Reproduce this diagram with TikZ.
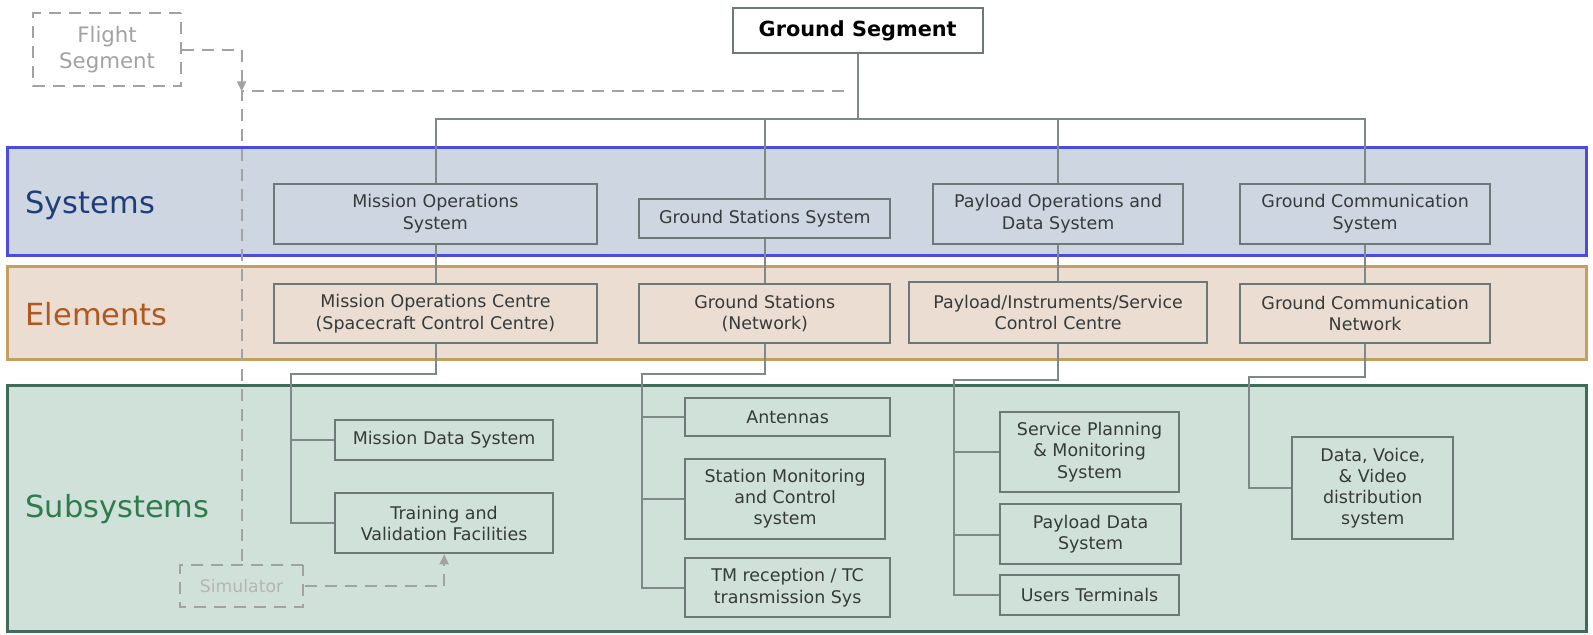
\documentclass[tikz,border=0pt]{standalone}
\usepackage{fontspec}
\setmainfont{DejaVu Sans}
\usetikzlibrary{arrows.meta}
\definecolor{sysfill}{HTML}{CDD6E1}
\definecolor{sysline}{HTML}{4B4BE0}
\definecolor{sysText}{HTML}{1F3D7A}
\definecolor{elfill}{HTML}{EBDDD2}
\definecolor{elline}{HTML}{C4A060}
\definecolor{elText}{HTML}{B0581E}
\definecolor{subfill}{HTML}{D0E1D9}
\definecolor{subline}{HTML}{3E6C58}
\definecolor{subText}{HTML}{2E7C4E}
\definecolor{boxline}{HTML}{6E7878}
\definecolor{boxtext}{HTML}{363A3A}
\definecolor{connc}{HTML}{7F8888}
\definecolor{dashc}{HTML}{A2A2A2}
\tikzset{
  box/.style={draw=boxline, line width=2pt, inner sep=0pt, align=center,
    text=boxtext, font=\fontsize{17.2}{21}\selectfont, transform shape},
  conn/.style={draw=connc, line width=2pt},
  dashl/.style={draw=dashc, line width=2pt, dash pattern=on 12pt off 8pt},
  dashbox/.style={draw=dashc, line width=2pt, dash pattern=on 12pt off 8pt,
    inner sep=0pt, align=center, text=dashc, transform shape},
  bandlabel/.style={anchor=west, inner sep=0pt, font=\fontsize{30}{34}\selectfont, transform shape},
  tip/.style={-{Triangle[length=10pt,width=9pt]}}
}
\begin{document}
\begin{tikzpicture}[x=1pt,y=-1pt,scale=1.015]
\useasboundingbox (0,0) rectangle (1569.5,625.6);
% bands
\draw[fill=sysfill, draw=sysline, line width=3pt] (7,145) rectangle (1563,252);
\draw[fill=elfill, draw=elline, line width=3pt] (7,263) rectangle (1563,354);
\draw[fill=subfill, draw=subline, line width=3pt] (7,380) rectangle (1563,622);
\node[bandlabel, text=sysText] (lsys) at (25,202) {Systems};
\node[bandlabel, text=elText] (lel) at (25,310) {Elements};
\node[bandlabel, text=subText] (lsub) at (25,502) {Subsystems};

% top
\node[box, fill=white, text=black, minimum width=246, minimum height=44,
  font=\bfseries\fontsize{20.5}{24}\selectfont] (gs) at (845,30) {Ground Segment};
\node[dashbox, minimum width=145, minimum height=72,
  font=\fontsize{21}{26}\selectfont] (fs) at (105.5,49) {Flight\\Segment};
\node[dashbox, minimum width=122, minimum height=41,
  font=\fontsize{17}{20}\selectfont, text=dashc!80] (sim) at (238,577.5) {Simulator};

% systems
\node[box, minimum width=318, minimum height=59] (mos) at (429,210.5) {Mission Operations\\System};
\node[box, minimum width=247, minimum height=38] (gss) at (753.5,215) {Ground Stations System};
\node[box, minimum width=247, minimum height=59] (pods) at (1042.5,210.5) {Payload Operations and\\Data System};
\node[box, minimum width=246, minimum height=59] (gcs) at (1345,210.5) {Ground Communication\\System};

% elements
\node[box, minimum width=318, minimum height=58] (moc) at (429,309) {Mission Operations Centre\\(Spacecraft Control Centre)};
\node[box, minimum width=247, minimum height=58] (gsn) at (753.5,309) {Ground Stations\\(Network)};
\node[box, minimum width=294, minimum height=60] (piscc) at (1042.5,308) {Payload/Instruments/Service\\Control Centre};
\node[box, minimum width=246, minimum height=58] (gcn) at (1345,309) {Ground Communication\\Network};

% subsystems
\node[box, minimum width=215, minimum height=39] (mds) at (437.5,433.5) {Mission Data System};
\node[box, minimum width=215, minimum height=59] (tvf) at (437.5,515.5) {Training and\\Validation Facilities};
\node[box, minimum width=202, minimum height=38] (ant) at (776,411) {Antennas};
\node[box, minimum width=197, minimum height=79] (smc) at (773.5,491.5) {Station Monitoring\\and Control\\system};
\node[box, minimum width=202, minimum height=58] (tmtc) at (776,579) {TM reception / TC\\transmission Sys};
\node[box, minimum width=177, minimum height=79] (spm) at (1073.5,445.5) {Service Planning\\\& Monitoring\\System};
\node[box, minimum width=179, minimum height=59] (pds) at (1074.5,526.5) {Payload Data\\System};
\node[box, minimum width=177, minimum height=39] (ut) at (1073.5,586.5) {Users Terminals};
\node[box, minimum width=159, minimum height=100] (dvv) at (1352.5,481) {Data, Voice,\\\& Video\\distribution\\system};

% tree connectors
\coordinate (bus) at (0,117);
\draw[conn] (gs.south) -- (gs.south |- bus);
\draw[conn] (mos.north) |- (gcs.north |- bus) -- (gcs.north);
\draw[conn] (gss.north) -- (gss.north |- bus);
\draw[conn] (pods.north) -- (pods.north |- bus);
\draw[conn] (mos.south) -- (moc.north);
\draw[conn] (gss.south) -- (gsn.north);
\draw[conn] (pods.south) -- (piscc.north);
\draw[conn] (gcs.south) -- (gcn.north);

\coordinate (tmoc) at (287,368);
\draw[conn] (moc.south) |- (tmoc) |- (tvf.west);
\draw[conn] (mds.west) -- (mds.west -| tmoc);
\coordinate (tgsn) at (632,368);
\draw[conn] (gsn.south) |- (tgsn) |- (tmtc.west);
\draw[conn] (ant.west) -- (ant.west -| tgsn);
\draw[conn] (smc.west) -- (smc.west -| tgsn);
\coordinate (tpis) at (940,374);
\draw[conn] (piscc.south) |- (tpis) |- (ut.west);
\draw[conn] (spm.west) -- (spm.west -| tpis);
\draw[conn] (pds.west) -- (pds.west -| tpis);
\coordinate (tgcn) at (1230,371);
\draw[conn] (gcn.south) |- (tgcn) |- (dvv.west);

% dashed flight/simulator links
\coordinate (jn) at (238,90);
\coordinate (dend) at (831,90);
\draw[dashl] (dend) -- (jn) -- (sim.north);
\draw[dashl, tip, dashc] (fs.east) -| (jn);
\draw[dashl, tip, dashc] (sim.east) -| (tvf.south);
\end{tikzpicture}
\end{document}
